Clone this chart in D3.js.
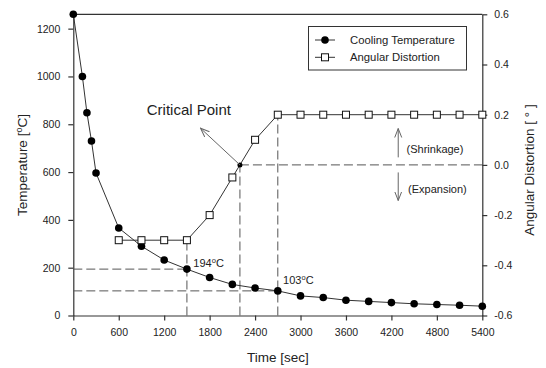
<!DOCTYPE html>
<html><head><meta charset="utf-8">
<script src="https://cdn.jsdelivr.net/npm/d3@7"></script>
<style>
body{margin:0;background:#fff;}
text{font-family:"Liberation Sans",Arial,sans-serif;fill:#222;}
</style></head>
<body><svg id="c" width="546" height="368"></svg>
<script>
const times = [0,120,180,240,300,600,900,1200,1500,1800,2100,2400,2700,3000,3300,3600,3900,4200,4500,4800,5100,5400];
const temps = [1260,1000,848,730,596,366,290,232,194,159,130,115,103,82,75,64,59,54,49,46,43,39];
const distTimes = [600,900,1200,1500,1800,2100,2400,2700,3000,3300,3600,3900,4200,4500,4800,5100,5400];
const dist = [-0.3,-0.3,-0.3,-0.3,-0.2,-0.05,0.1,0.2,0.2,0.2,0.2,0.2,0.2,0.2,0.2,0.2,0.2];
const xTicks = [0,600,1200,1800,2400,3000,3600,4200,4800,5400];
const yTicks = [0,200,400,600,800,1000,1200];
const y2Ticks = [-0.6,-0.4,-0.2,0.0,0.2,0.4,0.6];
const critical = [2200, 0];
const markT = [1500, 194];
const markT2 = [2700, 103];
const seriesNames = ["Cooling Temperature","Angular Distortion"];

const svg = d3.select("#c");
const x = d3.scaleLinear().domain([0,5400]).range([73.3,482.3]);
const y = d3.scaleLinear().domain([0,1260]).range([315.5,14.3]);
const y2 = d3.scaleLinear().domain([-0.6,0.6]).range([315.5,14.3]);

const axisCol = "#333";
// top border
svg.append("line").attr("x1",x(0)).attr("x2",x(5400)).attr("y1",y(1260)).attr("y2",y(1260))
  .attr("stroke",axisCol).attr("stroke-width",1.2);

function styleAxis(g){
  g.selectAll("path,line").attr("stroke",axisCol).attr("stroke-width",1.2);
  g.selectAll("text").style("font-size","10.5px").attr("fill","#222").style("font-family","Liberation Sans, Arial, sans-serif");
}
svg.append("g").attr("transform",`translate(0,${y(0)})`)
  .call(d3.axisBottom(x).tickValues(xTicks).tickSize(5).tickSizeOuter(0).tickPadding(8).tickFormat(d=>d))
  .call(styleAxis);
svg.append("g").attr("transform",`translate(${x(0)},0)`)
  .call(d3.axisLeft(y).tickValues(yTicks).tickSize(5).tickSizeOuter(0).tickPadding(8).tickFormat(d=>d))
  .call(styleAxis);
svg.append("g").attr("transform",`translate(${x(5400)},0)`)
  .call(d3.axisRight(y2).tickValues(y2Ticks).tickSize(5).tickSizeOuter(0).tickPadding(7).tickFormat(d=>d.toFixed(1)))
  .call(styleAxis);

// axis titles
svg.append("text").attr("x",(x(0)+x(5400))/2).attr("y",362).attr("text-anchor","middle")
  .style("font-size","13.5px").text("Time [sec]");
const lt = svg.append("text").attr("transform",`translate(27,165) rotate(-90)`).attr("text-anchor","middle")
  .style("font-size","13.5px");
lt.append("tspan").text("Temperature [");
lt.append("tspan").attr("dy",-5).style("font-size","9px").text("o");
lt.append("tspan").attr("dy",5).text("C]");
svg.append("text").attr("transform",`translate(534,170) rotate(-90)`).attr("text-anchor","middle")
  .style("font-size","13.5px").text("Angular Distortion [ ° ]");

// dashed guides
const dash = "9,4";
const gcol = "#555";
function dl(x1,y1,x2,y2_){
  svg.append("line").attr("x1",x1).attr("y1",y1).attr("x2",x2).attr("y2",y2_)
    .attr("stroke",gcol).attr("stroke-width",1).attr("stroke-dasharray",dash);
}
dl(x(0),y(markT[1]),x(markT[0]),y(markT[1]));
dl(x(0),y(markT2[1]),x(markT2[0]),y(markT2[1]));
dl(x(markT[0]),y(0),x(markT[0]),y2(-0.3));
dl(x(critical[0]),y(0),x(critical[0]),y2(critical[1]));
dl(x(markT2[0]),y(0),x(markT2[0]),y2(0.2));
dl(x(critical[0]),y2(0),x(5400),y2(0));

// lines
const lineCol = "#333";
const tData = times.map((t,i)=>[t,temps[i]]);
const dData = distTimes.map((t,i)=>[t,dist[i]]);
svg.append("path").datum(tData).attr("fill","none").attr("stroke",lineCol).attr("stroke-width",1)
  .attr("d",d3.line().x(d=>x(d[0])).y(d=>y(d[1])));
svg.append("path").datum(dData).attr("fill","none").attr("stroke",lineCol).attr("stroke-width",1)
  .attr("d",d3.line().x(d=>x(d[0])).y(d=>y2(d[1])));

svg.selectAll("circle.t").data(tData).enter().append("circle").attr("class","t")
  .attr("cx",d=>x(d[0])).attr("cy",d=>y(d[1])).attr("r",3.8).attr("fill","#000");
svg.selectAll("rect.d").data(dData).enter().append("rect").attr("class","d")
  .attr("x",d=>x(d[0])-3.5).attr("y",d=>y2(d[1])-3.5).attr("width",7).attr("height",7)
  .attr("fill","#fff").attr("stroke","#111").attr("stroke-width",1);

// critical point
svg.append("circle").attr("cx",x(critical[0])).attr("cy",y2(critical[1])).attr("r",2.5).attr("fill","#000");

// arrows
const defs = svg.append("defs");
defs.append("marker").attr("id","ah").attr("viewBox","0 0 10 10").attr("refX",9).attr("refY",5)
  .attr("markerWidth",10).attr("markerHeight",10).attr("markerUnits","userSpaceOnUse").attr("orient","auto")
  .append("path").attr("d","M0,1.5 L9,5 L0,8.5").attr("fill","none").attr("stroke","#666").attr("stroke-width",1);
function arrow(x1,y1,x2,y2_){
  svg.append("line").attr("x1",x1).attr("y1",y1).attr("x2",x2).attr("y2",y2_)
    .attr("stroke","#666").attr("stroke-width",1).attr("marker-end","url(#ah)");
}
arrow(x(critical[0]),y2(critical[1]),x(1680),y2(0.146));
svg.append("text").attr("x",x(970)).attr("y",y2(0.2)).style("font-size","15px").text("Critical Point");

arrow(x(4290),y2(0.03),x(4290),y2(0.145));
arrow(x(4290),y2(-0.03),x(4290),y2(-0.142));
svg.append("text").attr("x",x(4400)).attr("y",y2(0.048)).style("font-size","11px").text("(Shrinkage)");
svg.append("text").attr("x",x(4420)).attr("y",y2(-0.11)).style("font-size","11px").text("(Expansion)");

function degLabel(px,py,num){
  const t = svg.append("text").attr("x",px).attr("y",py).style("font-size","11px");
  t.append("tspan").text(num);
  t.append("tspan").attr("dy",-4).style("font-size","7.5px").text("o");
  t.append("tspan").attr("dy",4).text("C");
}
degLabel(x(1585),y(markT[1])+(-2),"194");
degLabel(x(2770),y(markT2[1])-7,"103");

// legend
const lg = svg.append("g");
lg.append("rect").attr("x",308.5).attr("y",26.5).attr("width",158).attr("height",43.5)
  .attr("fill","#fff").attr("stroke","#333").attr("stroke-width",1);
[0,1].forEach(i=>{
  const yy = 40 + i*17.3;
  lg.append("line").attr("x1",315).attr("x2",335).attr("y1",yy).attr("y2",yy).attr("stroke",lineCol).attr("stroke-width",1);
  if(i===0) lg.append("circle").attr("cx",325).attr("cy",yy).attr("r",3.8).attr("fill","#000");
  else lg.append("rect").attr("x",321.5).attr("y",yy-3.5).attr("width",7).attr("height",7).attr("fill","#fff").attr("stroke","#111");
  lg.append("text").attr("x",350).attr("y",yy+4).style("font-size","11.3px").text(seriesNames[i]);
});
</script></body></html>
